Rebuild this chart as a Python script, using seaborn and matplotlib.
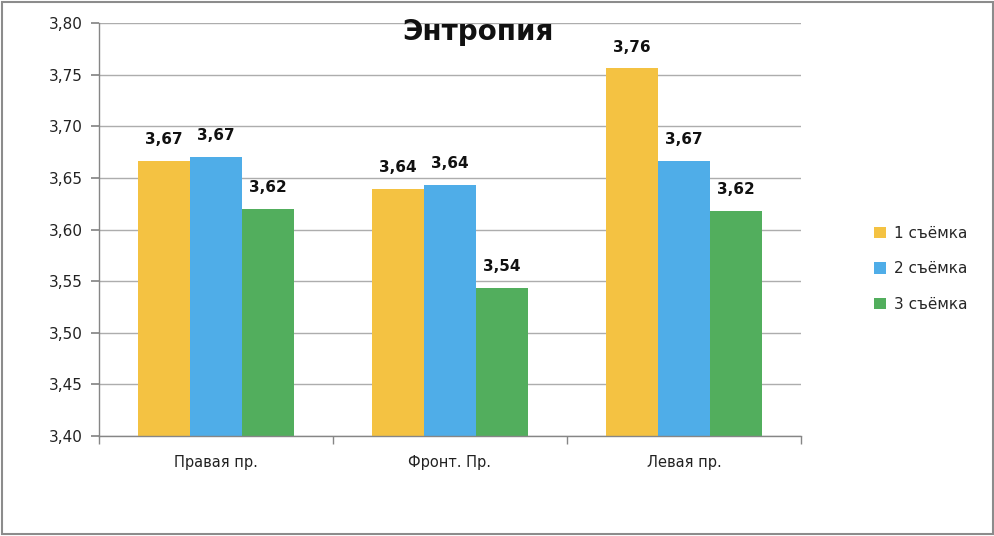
import matplotlib
matplotlib.use("Agg")
import matplotlib.pyplot as plt
import seaborn as sns
import pandas as pd
from matplotlib.patches import Rectangle

categories = ["Правая пр.", "Фронт. Пр.", "Левая пр."]
series = ["1 съёмка", "2 съёмка", "3 съёмка"]
values_1 = [3.666, 3.639, 3.756]
values_2 = [3.670, 3.643, 3.666]
values_3 = [3.620, 3.543, 3.618]
colors = ["#F4C242", "#4FADE8", "#52AE5D"]
yticks = [3.40, 3.45, 3.50, 3.55, 3.60, 3.65, 3.70, 3.75, 3.80]

rows = []
for s, vals in zip(series, [values_1, values_2, values_3]):
    for c, v in zip(categories, vals):
        rows.append({"cat": c, "series": s, "value": v})
df = pd.DataFrame(rows)

sns.set_theme(style="white")
plt.rcParams['font.family'] = ['DejaVu Sans']

fig = plt.figure(figsize=(9.95, 5.36), dpi=100)
ax = fig.add_axes([99/995, 1-436/536, (801-99)/995, (436-23)/536])

sns.barplot(data=df, x="cat", y="value", hue="series", palette=colors,
            width=0.665, saturation=1, ax=ax, legend=True, gap=0,
            linewidth=0, edgecolor="none")

ax.set_ylim(3.40, 3.80)
ax.set_xlim(-0.5, 2.5)
ax.set_yticks(yticks)
ax.set_yticklabels([f"{t:.2f}".replace(".", ",") for t in yticks], fontsize=11, color="#222222")
ax.set_xlabel("")
ax.set_ylabel("")
ax.yaxis.grid(True, color="#ADADAD", linewidth=1)
ax.set_axisbelow(True)
for sp in ["top", "right"]:
    ax.spines[sp].set_visible(False)
for sp in ["left", "bottom"]:
    ax.spines[sp].set_color("#868686")
    ax.spines[sp].set_linewidth(1)

ax.set_xticks([0, 1, 2])
ax.set_xticklabels(categories, fontsize=10.5, color="#222222")
ax.tick_params(axis="x", length=0, pad=14)
ax.set_xticks([-0.5, 0.5, 1.5, 2.5], minor=True)
ax.tick_params(axis="x", which="minor", length=6, color="#868686", direction="out", bottom=True)
ax.tick_params(axis="y", length=6, color="#868686", direction="out", left=True, pad=6)

for cont in ax.containers:
    labels = [f"{v:.2f}".replace(".", ",") for v in cont.datavalues]
    ax.bar_label(cont, labels=labels, padding=10, fontsize=11, fontweight="bold", color="#111111")

leg = ax.legend(loc="center left", bbox_to_anchor=(1.085, 0.405), frameon=False,
                fontsize=11, handlelength=0.75, handleheight=0.75, labelspacing=1.35,
                handletextpad=0.5)

fig.text(478/995, 1-32/536, "Энтропия", ha="center", va="center",
         fontsize=20, fontweight="bold", color="#111111")

fig.patches.append(Rectangle((2/995, 2/536), 991/995, 532/536, transform=fig.transFigure,
                             fill=False, edgecolor="#8C8C8C", linewidth=1.5))

fig.savefig("out.png", dpi=100)
